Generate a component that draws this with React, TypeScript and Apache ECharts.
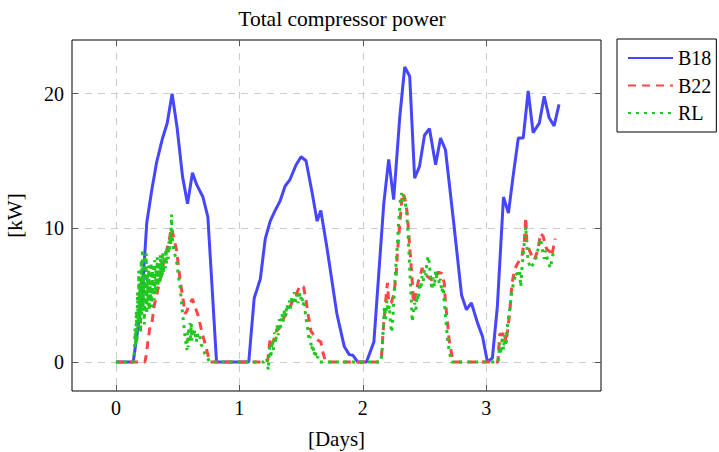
import React, { useEffect, useRef } from "react";
import * as echarts from "echarts";

// ---- data (days, kW) ----
const X_TICKS = [0, 1, 2, 3];
const Y_TICKS = [0, 10, 20];
const X_MIN = -0.356;
const X_MAX = 3.93;
const Y_MIN = -2.16;
const Y_MAX = 24;

const B18: [number, number][] = [
  [0, 0], [0.14, 0], [0.21, 4.6], [0.25, 10.4], [0.29, 12.8], [0.33, 14.9], [0.375, 16.6], [0.415, 17.8],
  [0.455, 20.0], [0.495, 17.5], [0.54, 13.8], [0.58, 11.8], [0.62, 14.1], [0.655, 13.2], [0.705, 12.3],
  [0.745, 10.8], [0.815, 0], [1.076, 0], [1.12, 4.75], [1.17, 6.2], [1.21, 9.2], [1.25, 10.5], [1.29, 11.3],
  [1.33, 12.0], [1.37, 13.1], [1.41, 13.6], [1.46, 14.7], [1.5, 15.3], [1.54, 15.0], [1.59, 12.6], [1.63, 10.5],
  [1.66, 11.3], [1.71, 8.5], [1.79, 3.6], [1.85, 1.15], [1.89, 0.55], [1.92, 0.5], [1.96, 0], [2.03, 0],
  [2.09, 1.5], [2.17, 11.8], [2.21, 15.1], [2.25, 12.1], [2.3, 18.3], [2.34, 22.0], [2.38, 21.3], [2.42, 13.7],
  [2.46, 14.6], [2.5, 16.9], [2.54, 17.4], [2.59, 14.7], [2.63, 16.7], [2.67, 15.8], [2.74, 10.1], [2.8, 5.0],
  [2.84, 3.9], [2.88, 4.4], [2.93, 2.9], [2.97, 1.9], [3.01, 0], [3.05, 0.3], [3.09, 4.1], [3.14, 12.3],
  [3.18, 11.1], [3.22, 14.0], [3.26, 16.7], [3.3, 16.7], [3.34, 20.2], [3.38, 17.1], [3.43, 17.8], [3.47, 19.8],
  [3.51, 18.2], [3.55, 17.6], [3.59, 19.2],
];

const B22: [number, number][] = [
  [0, 0], [0.235, 0], [0.245, 0.5], [0.26, 1.6], [0.275, 2.6], [0.29, 2.8], [0.31, 4.2], [0.33, 5.0], [0.35, 5.8],
  [0.37, 6.6], [0.39, 7.6], [0.41, 8.3], [0.43, 9.0], [0.45, 10.0], [0.465, 9.4], [0.49, 8.4], [0.52, 6.1],
  [0.545, 4.6], [0.56, 3.6], [0.575, 3.8], [0.59, 4.2], [0.62, 4.7], [0.645, 4.0], [0.665, 3.5], [0.7, 2.1],
  [0.73, 1.1], [0.76, 0],
  [1.2, 0], [1.23, 0.1], [1.25, 1.8], [1.27, 1.4], [1.3, 2.3], [1.33, 2.6], [1.36, 3.3], [1.4, 3.9], [1.43, 4.5],
  [1.46, 5.0], [1.49, 5.7], [1.52, 5.6], [1.54, 4.6], [1.56, 3.4], [1.58, 2.3], [1.61, 1.9], [1.64, 1.6],
  [1.66, 1.5], [1.68, 0.6], [1.7, 0],
  [2.145, 0], [2.15, 0.2], [2.16, 1.6], [2.17, 2.9], [2.19, 5.0], [2.2, 5.9], [2.21, 4.4], [2.23, 4.4], [2.25, 5.0],
  [2.27, 6.4], [2.28, 8.1], [2.3, 10.3], [2.32, 12.6], [2.34, 12.2], [2.36, 11.1], [2.38, 8.6], [2.4, 6.1],
  [2.41, 4.4], [2.43, 5.1], [2.45, 6.0], [2.47, 6.6], [2.48, 7.0], [2.52, 6.4], [2.56, 6.1], [2.61, 6.7],
  [2.64, 6.6], [2.66, 5.9], [2.67, 4.4], [2.685, 3.1], [2.7, 1.6], [2.72, 0.6], [2.73, 0],
  [3.095, 0], [3.1, 0.8], [3.11, 2.1], [3.13, 2.0], [3.15, 2.3], [3.16, 1.4], [3.19, 3.6], [3.2, 4.9], [3.21, 5.9],
  [3.22, 6.4], [3.24, 7.1], [3.27, 7.6], [3.29, 7.9], [3.31, 9.1], [3.32, 10.8], [3.33, 8.8], [3.36, 8.1],
  [3.39, 7.6], [3.42, 8.4], [3.44, 9.6], [3.46, 9.4], [3.49, 8.4], [3.52, 8.2], [3.53, 7.9], [3.56, 9.2],
];

const RL: [number, number][] = [
  [0, 0], [0.14, 0], [0.15, 0.8], [0.155, 2.5], [0.16, 1.2], [0.165, 3.8], [0.17, 1.5], [0.175, 5.2], [0.18, 2.4],
  [0.185, 6.8], [0.19, 3.0], [0.195, 5.9], [0.2, 2.2], [0.205, 7.6], [0.21, 3.5], [0.215, 8.4], [0.22, 4.1],
  [0.225, 6.2], [0.23, 2.8], [0.235, 7.9], [0.24, 4.6], [0.245, 8.1], [0.25, 3.6], [0.255, 6.5], [0.26, 4.2],
  [0.265, 7.2], [0.27, 3.9], [0.275, 6.0], [0.28, 4.8], [0.285, 7.4], [0.29, 4.1], [0.295, 6.8], [0.3, 5.0],
  [0.305, 7.3], [0.31, 4.6], [0.315, 7.6], [0.32, 5.4], [0.325, 6.9], [0.33, 5.1], [0.335, 7.8], [0.34, 5.6],
  [0.35, 7.2], [0.355, 5.8], [0.36, 8.0], [0.365, 6.1], [0.37, 7.5], [0.375, 6.4], [0.38, 8.2], [0.385, 6.6],
  [0.39, 7.9], [0.4, 7.0], [0.405, 8.4], [0.41, 7.3], [0.42, 8.6], [0.425, 7.7], [0.43, 9.0], [0.435, 8.2],
  [0.44, 9.6], [0.445, 8.8], [0.45, 11.0], [0.455, 9.4], [0.465, 8.6], [0.475, 8.1], [0.49, 7.6], [0.505, 6.5],
  [0.52, 5.6], [0.54, 3.6], [0.56, 1.9], [0.575, 0.9], [0.58, 2.2], [0.585, 1.1], [0.59, 2.6], [0.595, 1.4],
  [0.6, 2.9], [0.605, 1.8], [0.61, 2.9], [0.615, 1.6], [0.62, 2.5], [0.63, 1.9], [0.64, 2.4], [0.65, 1.5],
  [0.66, 2.1], [0.67, 1.7], [0.68, 1.9], [0.69, 1.3], [0.706, 1.1], [0.72, 0.6], [0.735, 0.4], [0.76, 0],
  [1.2, 0], [1.22, 0.3], [1.235, -0.6], [1.245, 1.1], [1.255, 0.3], [1.265, 1.6], [1.275, 0.9], [1.285, 2.2],
  [1.295, 1.4], [1.305, 2.8], [1.315, 2.0], [1.325, 3.2], [1.335, 2.6], [1.345, 3.6], [1.355, 3.0], [1.365, 3.9],
  [1.375, 3.4], [1.385, 4.3], [1.395, 3.8], [1.405, 4.6], [1.415, 4.0], [1.425, 4.9], [1.435, 4.3], [1.445, 5.2],
  [1.455, 4.5], [1.465, 5.0], [1.475, 4.4], [1.485, 5.3], [1.495, 4.6], [1.505, 5.0], [1.515, 4.2], [1.525, 4.6],
  [1.535, 3.6], [1.545, 3.0], [1.555, 2.4], [1.565, 1.6], [1.575, 1.9], [1.585, 0.9], [1.595, 1.3], [1.605, 0.5],
  [1.615, 0.9], [1.625, 0.2], [1.635, 0.4], [1.645, 0],
  [2.145, 0], [2.155, 0.5], [2.165, 2.4], [2.175, 4.1], [2.185, 3.2], [2.195, 4.6], [2.205, 3.8], [2.215, 4.2],
  [2.225, 2.8], [2.235, 2.2], [2.245, 3.5], [2.255, 5.2], [2.265, 6.8], [2.275, 8.0], [2.285, 9.6], [2.295, 11.0],
  [2.305, 12.1], [2.315, 12.6], [2.325, 12.0], [2.335, 12.4], [2.345, 11.8], [2.355, 11.2], [2.365, 9.8],
  [2.375, 8.0], [2.385, 6.0], [2.395, 4.3], [2.4, 3.0], [2.41, 3.6], [2.42, 4.4], [2.43, 3.9], [2.44, 5.0],
  [2.45, 4.6], [2.46, 5.9], [2.47, 5.4], [2.48, 6.4], [2.49, 6.0], [2.5, 6.9], [2.51, 6.5], [2.52, 7.4],
  [2.53, 7.9], [2.54, 7.3], [2.55, 6.2], [2.56, 5.4], [2.57, 6.3], [2.58, 5.6], [2.59, 6.8], [2.6, 6.2],
  [2.61, 6.6], [2.62, 5.8], [2.63, 6.2], [2.64, 5.2], [2.65, 5.6], [2.66, 4.6], [2.67, 3.4], [2.68, 2.4],
  [2.69, 1.4], [2.7, 0.9], [2.71, 0.4], [2.72, 0],
  [3.095, 0], [3.1, 0.4], [3.11, 1.4], [3.12, 0.6], [3.13, 1.9], [3.14, 0.9], [3.15, 2.0], [3.16, 1.2],
  [3.17, 2.6], [3.19, 3.9], [3.21, 5.4], [3.23, 6.2], [3.24, 6.7], [3.26, 6.3], [3.27, 6.9], [3.28, 5.6],
  [3.29, 7.0], [3.31, 9.0], [3.32, 10.1], [3.33, 8.6], [3.34, 7.5], [3.36, 7.0], [3.38, 7.3], [3.4, 7.6],
  [3.42, 8.4], [3.44, 9.2], [3.45, 8.6], [3.47, 7.7], [3.48, 8.3], [3.5, 7.5], [3.52, 7.0], [3.54, 8.0],
  [3.56, 8.4],
];

const FONT = "'Liberation Serif', 'Times New Roman', serif";
const BLUE = "#4646ff";
const RED = "#ff4646";
const GREEN = "#1ec81e";

export default function App() {
  const ref = useRef<HTMLDivElement>(null);
  useEffect(() => {
    document.body.style.margin = "0";
    if (!ref.current) return;
    const chart = echarts.init(ref.current, null, { renderer: "svg" });
    const tickStyle = { color: "#555", width: 1 };
    const text = { fontFamily: FONT, fontSize: 20, color: "#000" };
    const nameText = { fontFamily: FONT, fontSize: 21, color: "#000" };
    chart.setOption({
      animation: false,
      backgroundColor: "#fff",
      title: {
        text: "Total compressor power",
        left: 337,
        top: 3,
        textAlign: "center",
        textStyle: { fontFamily: FONT, fontSize: 21.5, color: "#000", fontWeight: "normal" },
      },
      legend: {
        orient: "vertical",
        left: 617,
        top: 39,
        padding: [9, 5, 9, 10],
        itemWidth: 45,
        itemHeight: 14,
        itemGap: 7.5,
        borderColor: "#000",
        borderWidth: 1,
        backgroundColor: "#fff",
        selectedMode: false,
        itemStyle: { opacity: 0 },
        textStyle: { ...text, lineHeight: 20 },
        data: ["B18", "B22", "RL"],
      },
      grid: {
        left: 72,
        top: 40,
        right: 118,
        bottom: 61,
        show: true,
        borderColor: "#000",
        borderWidth: 1,
        containLabel: false,
        outerBoundsMode: "none",
      },
      xAxis: [
        {
          type: "value",
          min: X_MIN,
          max: X_MAX,
          position: "bottom",
          name: "[Days]",
          nameLocation: "middle",
          nameGap: 37,
          nameMoveOverlap: false,
          nameTextStyle: nameText,
          axisLine: { show: false, onZero: false },
          axisTick: { show: true, inside: true, length: 6, customValues: X_TICKS, lineStyle: tickStyle },
          axisLabel: { customValues: X_TICKS, margin: 7, ...text },
          splitLine: { show: true, lineStyle: { type: [7, 6], color: "#cccccc", width: 1 } },
        },
        {
          type: "value",
          min: X_MIN,
          max: X_MAX,
          position: "top",
          axisLine: { show: false, onZero: false },
          axisTick: { show: true, inside: true, length: 6, customValues: X_TICKS, lineStyle: tickStyle },
          axisLabel: { show: false },
          splitLine: { show: false },
        },
      ],
      yAxis: [
        {
          type: "value",
          min: Y_MIN,
          max: Y_MAX,
          position: "left",
          name: "[kW]",
          nameLocation: "middle",
          nameGap: 47,
          nameMoveOverlap: false,
          nameTextStyle: nameText,
          axisLine: { show: false, onZero: false },
          axisTick: { show: true, inside: true, length: 6, customValues: Y_TICKS, lineStyle: tickStyle },
          axisLabel: { customValues: Y_TICKS, margin: 8, ...text },
          splitLine: { show: true, lineStyle: { type: [7, 6], color: "#cccccc", width: 1 } },
        },
        {
          type: "value",
          min: Y_MIN,
          max: Y_MAX,
          position: "right",
          axisLine: { show: false, onZero: false },
          axisTick: { show: true, inside: true, length: 6, customValues: Y_TICKS, lineStyle: tickStyle },
          axisLabel: { show: false },
          splitLine: { show: false },
        },
      ],
      series: [
        {
          name: "B18",
          type: "line",
          data: B18,
          symbol: "none",
          showSymbol: false,
          color: BLUE,
          lineStyle: { color: BLUE, width: 3 },
          z: 2,
        },
        {
          name: "B22",
          type: "line",
          data: B22,
          symbol: "none",
          showSymbol: false,
          color: RED,
          lineStyle: { color: RED, width: 3, type: [8, 6] },
          z: 3,
        },
        {
          name: "RL",
          type: "line",
          data: RL,
          symbol: "none",
          showSymbol: false,
          color: GREEN,
          lineStyle: { color: GREEN, width: 3, type: [3, 5] },
          z: 4,
        },
      ],
    });
    return () => chart.dispose();
  }, []);
  return <div ref={ref} style={{ width: 719, height: 452 }} />;
}
